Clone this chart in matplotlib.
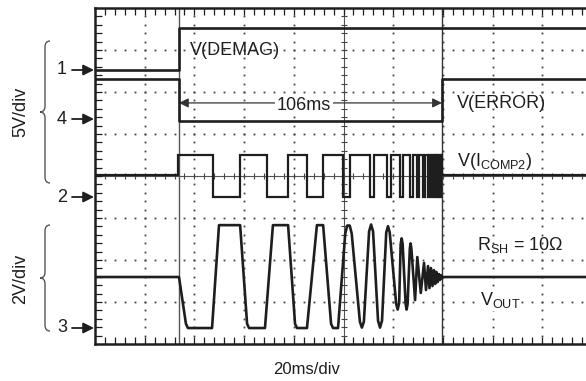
import matplotlib
matplotlib.use('Agg')
import matplotlib.pyplot as plt
from matplotlib.path import Path
from matplotlib.patches import PathPatch

plt.rcParams['font.family'] = ['Liberation Sans', 'DejaVu Sans']
plt.rcParams['mathtext.fontset'] = 'custom'
plt.rcParams['mathtext.rm'] = 'Liberation Sans'
plt.rcParams['mathtext.it'] = 'Liberation Sans:italic'

# ---------------- data (time in ms, 20 ms/div) ----------------
t_demag_on = 33.8
t_error_end = 139.6            # 106 ms later

# channel reference levels (screen divisions from bottom)
ref_ch1 = 6.52   # DEMAG, 5 V/div
ref_ch4 = 5.36   # ERROR, 5 V/div
ref_ch2 = 3.50   # I_COMP2, 2 V/div
ref_ch3 = 0.38   # VOUT, 2 V/div

demag_t = [0, 33.8, 33.8, 200]
demag_v = [0, 0, 5.0, 5.0]

error_t = [0, 33.8, 33.8, 139.6, 139.6, 200]
error_v = [4.8, 4.8, -0.2, -0.2, 4.8, 4.8]

icomp_mid, icomp_high, icomp_low = 1.05, 2.0, 0.0
icomp_edges = [33.6, 47.5, 58.4, 69.2, 77.7, 85.3, 91.8, 99.8, 102.6, 110.7,
               112.3, 117.5, 119.2, 122.7, 123.9, 126.8, 127.8, 129.6, 130.4,
               132.0, 132.6, 134.0, 134.5, 135.2, 135.7, 136.3, 136.7, 137.2,
               137.6, 138.1, 138.5, 138.9, 139.2]
icomp_end = 139.6

vout_t = [0, 33.8, 36.6, 37.4, 47.1, 49.9, 58.4, 61.2, 62.0, 68.4, 71.6, 77.7,
          80.5, 81.3, 85.3, 89.3, 91.8, 95.0, 95.8, 97.8,
          100.7, 101.5, 102.5, 103.3, 106.6, 107.4, 108.2, 110.3, 111.1, 111.9,
          113.9, 114.7, 115.5, 117.2, 117.9, 118.6, 121.2, 121.8, 122.4, 123.0,
          123.4, 123.8, 125.0, 125.4, 125.8, 126.7, 127.0, 127.3,
          128.8, 129.7, 131.1, 132.4, 133.2, 134.0,
          134.6, 135.2, 135.8, 136.4, 136.9, 137.4, 137.9, 138.4, 138.8, 139.2,
          139.6, 140.0, 200]
vout_v = [2.43, 2.43, 0.2, 0.0, 0.0, 4.9, 4.9, 0.2, 0.0, 0.0, 4.9, 4.9,
          0.2, 0.0, 0.0, 4.9, 4.9, 0.2, 0.0, 0.0,
          4.5, 4.88, 4.88, 4.5, 0.3, 0.02, 0.3, 4.6, 4.93, 4.6,
          0.35, 0.02, 0.35, 4.55, 4.85, 4.55, 1.15, 0.88, 1.2, 4.0,
          4.27, 4.0, 1.15, 0.88, 1.15, 3.8, 4.03, 3.8,
          1.33, 3.38, 1.67, 3.10, 1.81, 2.95,
          1.90, 2.86, 2.0, 2.76, 2.10, 2.67, 2.19, 2.57, 2.29, 2.52,
          2.36, 2.43, 2.43]

# ---------------- figure ----------------
W, H = 586, 381
fig = plt.figure(figsize=(W / 100, H / 100), dpi=100)
L, R, T, B = 95, 592, 8, 344
ax = fig.add_axes([L / W, 1 - B / H, (R - L) / W, (B - T) / H])
ax.set_xlim(0, 200)
ax.set_ylim(0, 8)

ink = '#1e1e1e'
grid_c = '#444444'

# dotted graticule
for gx in range(20, 200, 20):
    if gx == 100:
        continue
    ys = [i * 0.2 for i in range(1, 40)]
    ax.plot([gx] * len(ys), ys, ls='none', marker='s', ms=1.3, mec='none',
            color=grid_c, zorder=1)
for gy in range(1, 8):
    if gy == 4:
        continue
    xs = [i * 4 for i in range(1, 50)]
    ax.plot(xs, [gy] * len(xs), ls='none', marker='s', ms=1.3, mec='none',
            color=grid_c, zorder=1)

# center crosshair with small ticks
ax.axhline(4, color='#555555', lw=0.8, zorder=1)
ax.axvline(100, color='#555555', lw=0.8, zorder=1)
xs = [i * 4 for i in range(1, 50)]
ax.plot(xs, [4] * len(xs), ls='none', marker='|', ms=5, mew=0.8, color='#444', zorder=1)
ys = [i * 0.2 for i in range(1, 40)]
ax.plot([100] * len(ys), ys, ls='none', marker='_', ms=5, mew=0.8, color='#444', zorder=1)

# cursor lines
ax.axvline(t_demag_on, color='#555555', lw=1.0, zorder=2)
ax.axvline(t_error_end, color='#333333', lw=1.0, zorder=2)

# border ticks
ax.set_xticks([])
ax.set_yticks([])
ax.set_xticks([i * 4 for i in range(1, 50)], minor=True)
ax.set_yticks([i * 0.2 for i in range(1, 40)], minor=True)
ax.tick_params(which='minor', direction='in', length=5, width=0.9, color=ink,
               top=True, bottom=True, left=True, right=False,
               labelbottom=False, labelleft=False)
for s in ['left', 'bottom', 'top']:
    ax.spines[s].set_linewidth(1.8)
    ax.spines[s].set_color(ink)
ax.spines['right'].set_visible(False)

# traces
lw = 1.9
ax.plot(demag_t, [ref_ch1 + v / 5 for v in demag_v], color=ink, lw=lw, zorder=4)
ax.plot(error_t, [ref_ch4 + v / 5 for v in error_v], color=ink, lw=lw, zorder=4)

it, iv = [0, icomp_edges[0]], [icomp_mid, icomp_mid]
state_high = True
for e in icomp_edges:
    lvl = icomp_high if state_high else icomp_low
    it += [e, e]
    iv += [iv[-1], lvl]
    state_high = not state_high
it += [icomp_end, icomp_end, 200]
iv += [iv[-1], icomp_mid, icomp_mid]
ax.plot(it, [ref_ch2 + v / 2 for v in iv], color=ink, lw=1.6, zorder=4,
        solid_joinstyle='miter')

ax.plot(vout_t, [ref_ch3 + v / 2 for v in vout_v], color=ink, lw=lw, zorder=4,
        solid_joinstyle='round')

# 106 ms dimension
y_dim = 5.74
ax.annotate('', xy=(t_demag_on, y_dim), xytext=(t_error_end, y_dim),
            arrowprops=dict(arrowstyle='<|-|>', color='#333333', lw=0.9,
                            mutation_scale=14, shrinkA=0, shrinkB=0), zorder=3)
ax.text(84.1, 5.57, '106ms', ha='center', va='baseline', fontsize=13,
        color=ink, zorder=5,
        bbox=dict(boxstyle='square,pad=0.08', fc='white', ec='none'))

# labels in the plot
ax.text(38.2, 6.88, 'V(DEMAG)', ha='left', va='baseline', fontsize=13, color=ink, zorder=5)
ax.text(145.7, 5.62, 'V(ERROR)', ha='left', va='baseline', fontsize=13, color=ink, zorder=5)
ax.text(145.7, 4.24, r'V(I$_{\mathrm{COMP2}}$)', ha='left', va='baseline',
        fontsize=13, color=ink, zorder=5)
ax.text(153.7, 2.24, r'R$_{\mathrm{SH}}$ = 10Ω', ha='left', va='baseline',
        fontsize=13, color=ink, zorder=5)
ax.text(154.9, 0.93, r'V$_{\mathrm{OUT}}$', ha='left', va='baseline',
        fontsize=13, color=ink, zorder=5,
        bbox=dict(boxstyle='square,pad=0.05', fc='white', ec='none'))

# channel markers on the left
for lab, yp in [('1', 70), ('4', 119), ('2', 197), ('3', 328)]:
    fig.text(62 / W, 1 - yp / H, lab, ha='center', va='center', fontsize=13, color=ink)
    ax.annotate('', xy=(94, H - yp), xytext=(72, H - yp),
                xycoords='figure pixels', textcoords='figure pixels',
                arrowprops=dict(arrowstyle='-|>', color=ink, lw=1.3,
                                mutation_scale=16, shrinkA=0, shrinkB=0))


def brace(top, bot, xe=50, xs=45, xp=40):
    mid = (top + bot) / 2
    pts = [(xe, top), (xs, top), (xs, top + 6), (xs, mid - 6), (xs, mid), (xp, mid),
           (xs, mid), (xs, mid + 6), (xs, bot - 6), (xs, bot), (xe, bot)]
    codes = [Path.MOVETO, Path.CURVE3, Path.CURVE3, Path.LINETO, Path.CURVE3,
             Path.CURVE3, Path.CURVE3, Path.CURVE3, Path.LINETO, Path.CURVE3,
             Path.CURVE3]
    verts = [(x / W, 1 - y / H) for x, y in pts]
    fig.add_artist(PathPatch(Path(verts, codes), fc='none', ec='#555555', lw=1.0,
                             transform=fig.transFigure))


brace(41, 183)
brace(225, 331)
fig.text(21 / W, 1 - 112 / H, '5V/div', rotation=90, ha='center', va='center',
         fontsize=13, color=ink)
fig.text(21 / W, 1 - 279 / H, '2V/div', rotation=90, ha='center', va='center',
         fontsize=13, color=ink)
fig.text(307 / W, 1 - 369 / H, '20ms/div', ha='center', va='center',
         fontsize=12, color=ink)

fig.savefig('out.png', dpi=100)
